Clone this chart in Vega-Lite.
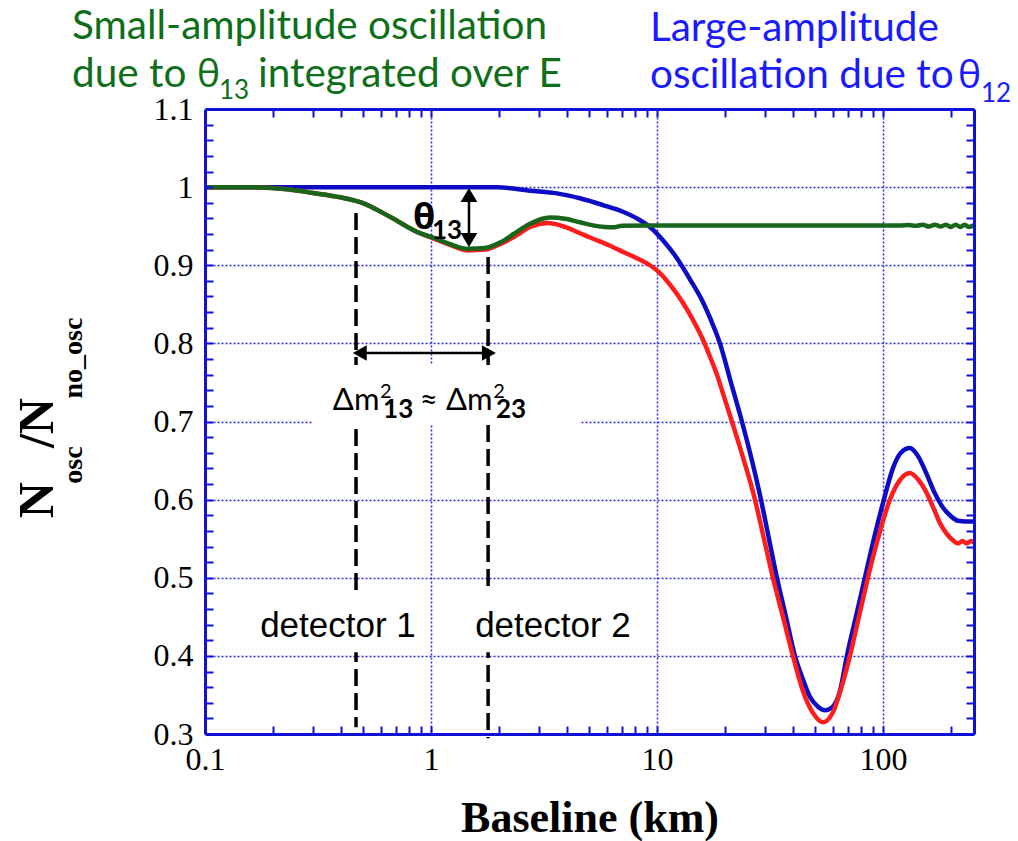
{
  "$schema": "https://vega.github.io/schema/vega-lite/v6.json",
  "width": 769,
  "height": 625,
  "autosize": {"type": "none"},
  "padding": {"left": 205, "top": 109, "right": 44, "bottom": 107},
  "background": "white",
  "config": {
    "view": {"stroke": null},
    "axis": {
      "domainColor": "#1010d8", "domainWidth": 3,
      "tickColor": "#1010d8", "tickWidth": 2,
      "gridColor": "#2a2ae6", "gridDash": [2, 2], "gridWidth": 1.5, "gridOpacity": 1,
      "labelFont": "Liberation Serif", "labelFontSize": 32, "labelColor": "black",
      "labelOverlap": false, "labelBound": false, "labelFlush": false,
      "titleFont": "Liberation Serif", "titleFontSize": 44, "titleFontWeight": "bold", "titleColor": "black"
    }
  },
  "resolve": {"axis": {"x": "independent", "y": "independent"}},
  "datasets": {
    "blue": [
      {"L": 0.1, "v": 1.0}, {"L": 1.488, "v": 1.0}, {"L": 1.959, "v": 0.9998}, {"L": 2.743, "v": 0.9954},
      {"L": 3.61, "v": 0.992}, {"L": 4.563, "v": 0.9857}, {"L": 5.769, "v": 0.977}, {"L": 7.072, "v": 0.9685},
      {"L": 8.155, "v": 0.96}, {"L": 9.311, "v": 0.949}, {"L": 10.63, "v": 0.932}, {"L": 12.26, "v": 0.909},
      {"L": 14.0, "v": 0.882}, {"L": 15.97, "v": 0.853}, {"L": 17.33, "v": 0.83}, {"L": 19.0, "v": 0.8},
      {"L": 21.25, "v": 0.75}, {"L": 23.77, "v": 0.7}, {"L": 26.33, "v": 0.65}, {"L": 28.86, "v": 0.6},
      {"L": 31.31, "v": 0.55}, {"L": 33.96, "v": 0.5}, {"L": 37.23, "v": 0.45}, {"L": 40.8, "v": 0.4},
      {"L": 44.26, "v": 0.37}, {"L": 47.54, "v": 0.3476}, {"L": 51.58, "v": 0.335}, {"L": 55.39, "v": 0.3305},
      {"L": 59.49, "v": 0.334}, {"L": 64.53, "v": 0.355}, {"L": 69.29, "v": 0.4}, {"L": 75.95, "v": 0.45},
      {"L": 83.25, "v": 0.5}, {"L": 91.25, "v": 0.55}, {"L": 101.0, "v": 0.6}, {"L": 110.7, "v": 0.64},
      {"L": 120.1, "v": 0.66}, {"L": 131.7, "v": 0.666}, {"L": 142.8, "v": 0.656}, {"L": 156.5, "v": 0.632},
      {"L": 169.9, "v": 0.608}, {"L": 184.3, "v": 0.59}, {"L": 197.9, "v": 0.58}, {"L": 214.7, "v": 0.573},
      {"L": 232.9, "v": 0.572}, {"L": 253, "v": 0.572}
    ],
    "red": [
      {"L": 0.1, "v": 1.0}, {"L": 0.1582, "v": 1.0}, {"L": 0.2377, "v": 0.997}, {"L": 0.3005, "v": 0.9925},
      {"L": 0.3957, "v": 0.987}, {"L": 0.5002, "v": 0.9796}, {"L": 0.6586, "v": 0.962}, {"L": 0.894, "v": 0.941},
      {"L": 1.01, "v": 0.935}, {"L": 1.214, "v": 0.926}, {"L": 1.458, "v": 0.919}, {"L": 1.734, "v": 0.92},
      {"L": 2.02, "v": 0.927}, {"L": 2.353, "v": 0.937}, {"L": 2.743, "v": 0.949}, {"L": 3.294, "v": 0.954},
      {"L": 3.916, "v": 0.949}, {"L": 4.563, "v": 0.941}, {"L": 5.319, "v": 0.933}, {"L": 6.194, "v": 0.925},
      {"L": 7.217, "v": 0.916}, {"L": 8.409, "v": 0.907}, {"L": 9.311, "v": 0.9}, {"L": 10.31, "v": 0.89},
      {"L": 11.65, "v": 0.872}, {"L": 13.03, "v": 0.852}, {"L": 14.43, "v": 0.83}, {"L": 15.97, "v": 0.805},
      {"L": 17.33, "v": 0.78}, {"L": 18.43, "v": 0.76}, {"L": 19.5, "v": 0.738}, {"L": 21.47, "v": 0.7},
      {"L": 24.27, "v": 0.65}, {"L": 27.15, "v": 0.6},
      {"L": 29.75, "v": 0.55}, {"L": 32.61, "v": 0.5}, {"L": 36.11, "v": 0.45}, {"L": 39.98, "v": 0.4},
      {"L": 44.26, "v": 0.355}, {"L": 49.02, "v": 0.327}, {"L": 54.27, "v": 0.315}, {"L": 60.1, "v": 0.328},
      {"L": 65.86, "v": 0.362}, {"L": 71.45, "v": 0.4}, {"L": 78.31, "v": 0.45}, {"L": 85.83, "v": 0.5},
      {"L": 95.05, "v": 0.55}, {"L": 107.4, "v": 0.6}, {"L": 118.9, "v": 0.625}, {"L": 131.7, "v": 0.634},
      {"L": 142.8, "v": 0.626}, {"L": 156.5, "v": 0.608}, {"L": 168.1, "v": 0.588}, {"L": 178.7, "v": 0.57},
      {"L": 192.0, "v": 0.556}, {"L": 204.0, "v": 0.548}, {"L": 215, "v": 0.544}, {"L": 225, "v": 0.547},
      {"L": 235, "v": 0.544}, {"L": 245, "v": 0.547}, {"L": 253, "v": 0.545}
    ],
    "green": [
      {"L": 0.1, "v": 1.0}, {"L": 0.1582, "v": 1.0}, {"L": 0.2377, "v": 0.997}, {"L": 0.3005, "v": 0.9925},
      {"L": 0.3957, "v": 0.987}, {"L": 0.5002, "v": 0.9796}, {"L": 0.6586, "v": 0.962}, {"L": 0.894, "v": 0.941},
      {"L": 1.01, "v": 0.936}, {"L": 1.214, "v": 0.927}, {"L": 1.458, "v": 0.921}, {"L": 1.734, "v": 0.922},
      {"L": 2.02, "v": 0.929}, {"L": 2.353, "v": 0.941}, {"L": 2.743, "v": 0.953}, {"L": 3.362, "v": 0.961},
      {"L": 3.916, "v": 0.9595}, {"L": 4.563, "v": 0.955}, {"L": 5.212, "v": 0.951}, {"L": 5.888, "v": 0.949},
      {"L": 6.386, "v": 0.9485}, {"L": 6.999, "v": 0.9505}, {"L": 9.311, "v": 0.951}, {"L": 15.5, "v": 0.951},
      {"L": 42.93, "v": 0.951}, {"L": 97.0, "v": 0.951}, {"L": 119, "v": 0.951}, {"L": 130, "v": 0.9515},
      {"L": 140, "v": 0.9505}, {"L": 150, "v": 0.952}, {"L": 160, "v": 0.9495}, {"L": 170, "v": 0.952},
      {"L": 180, "v": 0.9495}, {"L": 190, "v": 0.952}, {"L": 200, "v": 0.949}, {"L": 210, "v": 0.952},
      {"L": 220, "v": 0.949}, {"L": 230, "v": 0.952}, {"L": 240, "v": 0.949}, {"L": 253, "v": 0.951}
    ],
    "detectors": [
      {"L": 0.466, "top": 0.9668, "bottom": 0.3087},
      {"L": 1.79, "top": 0.9105, "bottom": 0.2946}
    ],
    "boxes": [
      {"L1": 0.2975, "L2": 4.56, "v1": 0.7722, "v2": 0.6955},
      {"L1": 0.1614, "L2": 0.942, "v1": 0.4816, "v2": 0.4047},
      {"L1": 1.414, "L2": 8.41, "v1": 0.4816, "v2": 0.4047}
    ],
    "vshaft": [{"L": 1.473, "v1": 0.993, "v2": 0.935}],
    "hshaft": [{"L1": 0.5, "L2": 1.75, "v": 0.7876}],
    "heads": [
      {"L": 1.473, "v": 0.99, "dir": "up"},
      {"L": 1.473, "v": 0.9323, "dir": "down"},
      {"L": 0.484, "v": 0.7876, "dir": "left"},
      {"L": 1.805, "v": 0.7876, "dir": "right"}
    ],
    "greenMain": [
      {"t": "Small-amplitude oscillation", "L": 0.02579, "v": 1.1895},
      {"t": "due to", "L": 0.02579, "v": 1.1282},
      {"t": "integrated over E", "L": 0.1716, "v": 1.1282}
    ],
    "greenTheta": [{"t": "θ", "L": 0.0922, "v": 1.1282}],
    "greenSub": [{"t": "13", "L": 0.1153, "v": 1.1128}],
    "blueMain": [
      {"t": "Large-amplitude", "L": 9.31, "v": 1.187},
      {"t": "oscillation due to", "L": 9.31, "v": 1.1269}
    ],
    "blueTheta": [{"t": "θ", "L": 214.7, "v": 1.1269}],
    "blueSub": [{"t": "12", "L": 271.4, "v": 1.109}],
    "detLabels": [
      {"t": "detector 1", "L": 0.3876, "v": 0.424},
      {"t": "detector 2", "L": 3.466, "v": 0.424}
    ],
    "dmMain": [
      {"t": "Δm", "L": 0.368, "v": 0.7147},
      {"t": "≈", "L": 0.893, "v": 0.7147},
      {"t": "Δm", "L": 1.166, "v": 0.7147}
    ],
    "dmSup": [
      {"t": "2", "L": 0.595, "v": 0.73},
      {"t": "2", "L": 1.884, "v": 0.73}
    ],
    "dmSub": [
      {"t": "13", "L": 0.614, "v": 0.7045},
      {"t": "23", "L": 1.939, "v": 0.7045}
    ],
    "thLabel": [{"t": "θ", "L": 0.832, "v": 0.9464}],
    "thSub": [{"t": "13", "L": 1.01, "v": 0.9336}],
    "yTitleMain": [
      {"t": "N", "L": 0.02125, "v": 0.5994},
      {"t": "/N", "L": 0.02125, "v": 0.698}
    ],
    "yTitleSub": [
      {"t": "osc", "L": 0.02856, "v": 0.6442},
      {"t": "no_osc", "L": 0.02856, "v": 0.7812}
    ]
  },
  "layer": [
    {
      "data": {"name": "detectors"},
      "mark": {"type": "rule", "color": "black", "strokeWidth": 3.5, "strokeDash": [17, 7]},
      "encoding": {
        "x": {"field": "L", "type": "quantitative",
          "scale": {"type": "log", "domain": [0.1, 253], "nice": false},
          "axis": {"orient": "bottom", "values": [1, 10, 100], "grid": true, "ticks": false, "labels": false, "domain": false, "title": null, "zindex": 0}},
        "y": {"field": "top", "type": "quantitative",
          "scale": {"domain": [0.3, 1.1], "nice": false, "zero": false},
          "axis": {"orient": "left", "values": [0.4, 0.5, 0.6, 0.7, 0.8, 0.9, 1.0], "grid": true, "ticks": false, "labels": false, "domain": false, "title": null, "zindex": 0}},
        "y2": {"field": "bottom"}
      }
    },
    {
      "data": {"name": "boxes"},
      "mark": {"type": "rect", "fill": "white", "stroke": null},
      "encoding": {
        "x": {"field": "L1", "type": "quantitative", "axis": null},
        "x2": {"field": "L2"},
        "y": {"field": "v1", "type": "quantitative", "axis": null},
        "y2": {"field": "v2"}
      }
    },
    {
      "data": {"name": "blue"},
      "mark": {"type": "line", "color": "#0c0cc4", "strokeWidth": 4.5, "interpolate": "monotone"},
      "encoding": {
        "x": {"field": "L", "type": "quantitative",
          "axis": {"orient": "bottom", "values": [0.1, 1, 10, 100], "ticks": false, "grid": false, "domain": true, "labelPadding": 10,
            "labelExpr": "datum.value < 0.5 ? '0.1' : format(datum.value, 'd')",
            "title": "Baseline (km)", "titlePadding": 21, "zindex": 1}},
        "y": {"field": "v", "type": "quantitative",
          "axis": {"orient": "left", "values": [0.3, 0.4, 0.5, 0.6, 0.7, 0.8, 0.9, 1, 1.1], "ticks": false, "grid": false, "domain": true, "labelPadding": 12,
            "labelExpr": "datum.value == 1 ? '1' : format(datum.value, '.1f')", "title": null, "zindex": 1}}
      }
    },
    {
      "data": {"name": "red"},
      "mark": {"type": "line", "color": "#ff1c1c", "strokeWidth": 4.5, "interpolate": "monotone"},
      "encoding": {
        "x": {"field": "L", "type": "quantitative",
          "axis": {"orient": "bottom", "values": [0.2, 0.3, 0.4, 0.5, 0.6, 0.7, 0.8, 0.9, 1, 2, 3, 4, 5, 6, 7, 8, 9, 10, 20, 30, 40, 50, 60, 70, 80, 90, 100, 200],
            "ticks": true, "tickSize": -8, "labels": false, "grid": false, "domain": false, "title": null, "zindex": 1}},
        "y": {"field": "v", "type": "quantitative",
          "axis": {"orient": "left", "values": [0.32, 0.34, 0.36, 0.38, 0.4, 0.42, 0.44, 0.46, 0.48, 0.5, 0.52, 0.54, 0.56, 0.58, 0.6, 0.62, 0.64, 0.66, 0.68, 0.7, 0.72, 0.74, 0.76, 0.78, 0.8, 0.82, 0.84, 0.86, 0.88, 0.9, 0.92, 0.94, 0.96, 0.98, 1.0, 1.02, 1.04, 1.06, 1.08],
            "ticks": true, "tickSize": -8, "labels": false, "grid": false, "domain": false, "title": null, "zindex": 1}}
      }
    },
    {
      "data": {"name": "green"},
      "mark": {"type": "line", "color": "#17661b", "strokeWidth": 4.5, "interpolate": "monotone"},
      "encoding": {
        "x": {"field": "L", "type": "quantitative",
          "axis": {"orient": "top", "values": [0.2, 0.3, 0.4, 0.5, 0.6, 0.7, 0.8, 0.9, 1, 2, 3, 4, 5, 6, 7, 8, 9, 10, 20, 30, 40, 50, 60, 70, 80, 90, 100, 200],
            "ticks": true, "tickSize": -8, "labels": false, "grid": false, "domain": true, "title": null, "zindex": 1}},
        "y": {"field": "v", "type": "quantitative",
          "axis": {"orient": "right", "values": [0.32, 0.34, 0.36, 0.38, 0.4, 0.42, 0.44, 0.46, 0.48, 0.5, 0.52, 0.54, 0.56, 0.58, 0.6, 0.62, 0.64, 0.66, 0.68, 0.7, 0.72, 0.74, 0.76, 0.78, 0.8, 0.82, 0.84, 0.86, 0.88, 0.9, 0.92, 0.94, 0.96, 0.98, 1.0, 1.02, 1.04, 1.06, 1.08],
            "ticks": true, "tickSize": -8, "labels": false, "grid": false, "domain": true, "title": null, "zindex": 1}}
      }
    },
    {
      "data": {"name": "vshaft"},
      "mark": {"type": "rule", "color": "black", "strokeWidth": 2.5},
      "encoding": {
        "x": {"field": "L", "type": "quantitative", "axis": null},
        "y": {"field": "v1", "type": "quantitative", "axis": null},
        "y2": {"field": "v2"}
      }
    },
    {
      "data": {"name": "hshaft"},
      "mark": {"type": "rule", "color": "black", "strokeWidth": 2.5},
      "encoding": {
        "x": {"field": "L1", "type": "quantitative", "axis": null},
        "x2": {"field": "L2"},
        "y": {"field": "v", "type": "quantitative", "axis": null}
      }
    },
    {
      "data": {"name": "heads"},
      "mark": {"type": "point", "filled": true, "size": 196, "color": "black", "opacity": 1, "strokeWidth": 0},
      "encoding": {
        "x": {"field": "L", "type": "quantitative", "axis": null},
        "y": {"field": "v", "type": "quantitative", "axis": null},
        "shape": {"field": "dir", "type": "nominal", "legend": null,
          "scale": {"domain": ["up", "down", "left", "right"],
            "range": ["M0,-1L-1.2,1L1.2,1Z", "M0,1L-1.2,-1L1.2,-1Z", "M-1,0L1,-1.1L1,1.1Z", "M1,0L-1,-1.1L-1,1.1Z"]}}
      }
    },
    {
      "data": {"name": "greenMain"},
      "mark": {"type": "text", "font": "Lato, Open Sans", "fontSize": 40.5, "color": "#0f6e1a", "align": "left", "baseline": "alphabetic"},
      "encoding": {
        "x": {"field": "L", "type": "quantitative", "axis": null},
        "y": {"field": "v", "type": "quantitative", "axis": null},
        "text": {"field": "t"}
      }
    },
    {
      "data": {"name": "greenTheta"},
      "mark": {"type": "text", "font": "Open Sans", "fontSize": 39, "color": "#0f6e1a", "align": "left", "baseline": "alphabetic"},
      "encoding": {
        "x": {"field": "L", "type": "quantitative", "axis": null},
        "y": {"field": "v", "type": "quantitative", "axis": null},
        "text": {"field": "t"}
      }
    },
    {
      "data": {"name": "greenSub"},
      "mark": {"type": "text", "font": "Lato, Open Sans", "fontSize": 26, "color": "#0f6e1a", "align": "left", "baseline": "alphabetic"},
      "encoding": {
        "x": {"field": "L", "type": "quantitative", "axis": null},
        "y": {"field": "v", "type": "quantitative", "axis": null},
        "text": {"field": "t"}
      }
    },
    {
      "data": {"name": "blueMain"},
      "mark": {"type": "text", "font": "Lato, Open Sans", "fontSize": 40.5, "color": "#1a1aff", "align": "left", "baseline": "alphabetic"},
      "encoding": {
        "x": {"field": "L", "type": "quantitative", "axis": null},
        "y": {"field": "v", "type": "quantitative", "axis": null},
        "text": {"field": "t"}
      }
    },
    {
      "data": {"name": "blueTheta"},
      "mark": {"type": "text", "font": "Open Sans", "fontSize": 39, "color": "#1a1aff", "align": "left", "baseline": "alphabetic"},
      "encoding": {
        "x": {"field": "L", "type": "quantitative", "axis": null},
        "y": {"field": "v", "type": "quantitative", "axis": null},
        "text": {"field": "t"}
      }
    },
    {
      "data": {"name": "blueSub"},
      "mark": {"type": "text", "font": "Lato, Open Sans", "fontSize": 26, "color": "#1a1aff", "align": "left", "baseline": "alphabetic"},
      "encoding": {
        "x": {"field": "L", "type": "quantitative", "axis": null},
        "y": {"field": "v", "type": "quantitative", "axis": null},
        "text": {"field": "t"}
      }
    },
    {
      "data": {"name": "detLabels"},
      "mark": {"type": "text", "font": "Liberation Sans", "fontSize": 35, "color": "black", "align": "center", "baseline": "alphabetic"},
      "encoding": {
        "x": {"field": "L", "type": "quantitative", "axis": null},
        "y": {"field": "v", "type": "quantitative", "axis": null},
        "text": {"field": "t"}
      }
    },
    {
      "data": {"name": "dmMain"},
      "mark": {"type": "text", "font": "Lato, Open Sans", "fontSize": 31, "color": "black", "align": "left", "baseline": "alphabetic"},
      "encoding": {
        "x": {"field": "L", "type": "quantitative", "axis": null},
        "y": {"field": "v", "type": "quantitative", "axis": null},
        "text": {"field": "t"}
      }
    },
    {
      "data": {"name": "dmSup"},
      "mark": {"type": "text", "font": "Lato, Open Sans", "fontSize": 20, "color": "black", "align": "left", "baseline": "alphabetic"},
      "encoding": {
        "x": {"field": "L", "type": "quantitative", "axis": null},
        "y": {"field": "v", "type": "quantitative", "axis": null},
        "text": {"field": "t"}
      }
    },
    {
      "data": {"name": "dmSub"},
      "mark": {"type": "text", "font": "Lato, Open Sans", "fontSize": 26, "fontWeight": "bold", "color": "black", "align": "left", "baseline": "alphabetic"},
      "encoding": {
        "x": {"field": "L", "type": "quantitative", "axis": null},
        "y": {"field": "v", "type": "quantitative", "axis": null},
        "text": {"field": "t"}
      }
    },
    {
      "data": {"name": "thLabel"},
      "mark": {"type": "text", "font": "Open Sans", "fontSize": 36, "fontWeight": "bold", "color": "black", "align": "left", "baseline": "alphabetic"},
      "encoding": {
        "x": {"field": "L", "type": "quantitative", "axis": null},
        "y": {"field": "v", "type": "quantitative", "axis": null},
        "text": {"field": "t"}
      }
    },
    {
      "data": {"name": "thSub"},
      "mark": {"type": "text", "font": "Lato, Open Sans", "fontSize": 26, "fontWeight": "bold", "color": "black", "align": "left", "baseline": "alphabetic"},
      "encoding": {
        "x": {"field": "L", "type": "quantitative", "axis": null},
        "y": {"field": "v", "type": "quantitative", "axis": null},
        "text": {"field": "t"}
      }
    },
    {
      "data": {"name": "yTitleMain"},
      "mark": {"type": "text", "font": "Liberation Serif", "fontSize": 50, "fontWeight": "bold", "color": "black", "align": "center", "baseline": "alphabetic", "angle": 270},
      "encoding": {
        "x": {"field": "L", "type": "quantitative", "axis": null},
        "y": {"field": "v", "type": "quantitative", "axis": null},
        "text": {"field": "t"}
      }
    },
    {
      "data": {"name": "yTitleSub"},
      "mark": {"type": "text", "font": "Liberation Serif", "fontSize": 28, "fontWeight": "bold", "color": "black", "align": "center", "baseline": "alphabetic", "angle": 270},
      "encoding": {
        "x": {"field": "L", "type": "quantitative", "axis": null},
        "y": {"field": "v", "type": "quantitative", "axis": null},
        "text": {"field": "t"}
      }
    }
  ]
}
